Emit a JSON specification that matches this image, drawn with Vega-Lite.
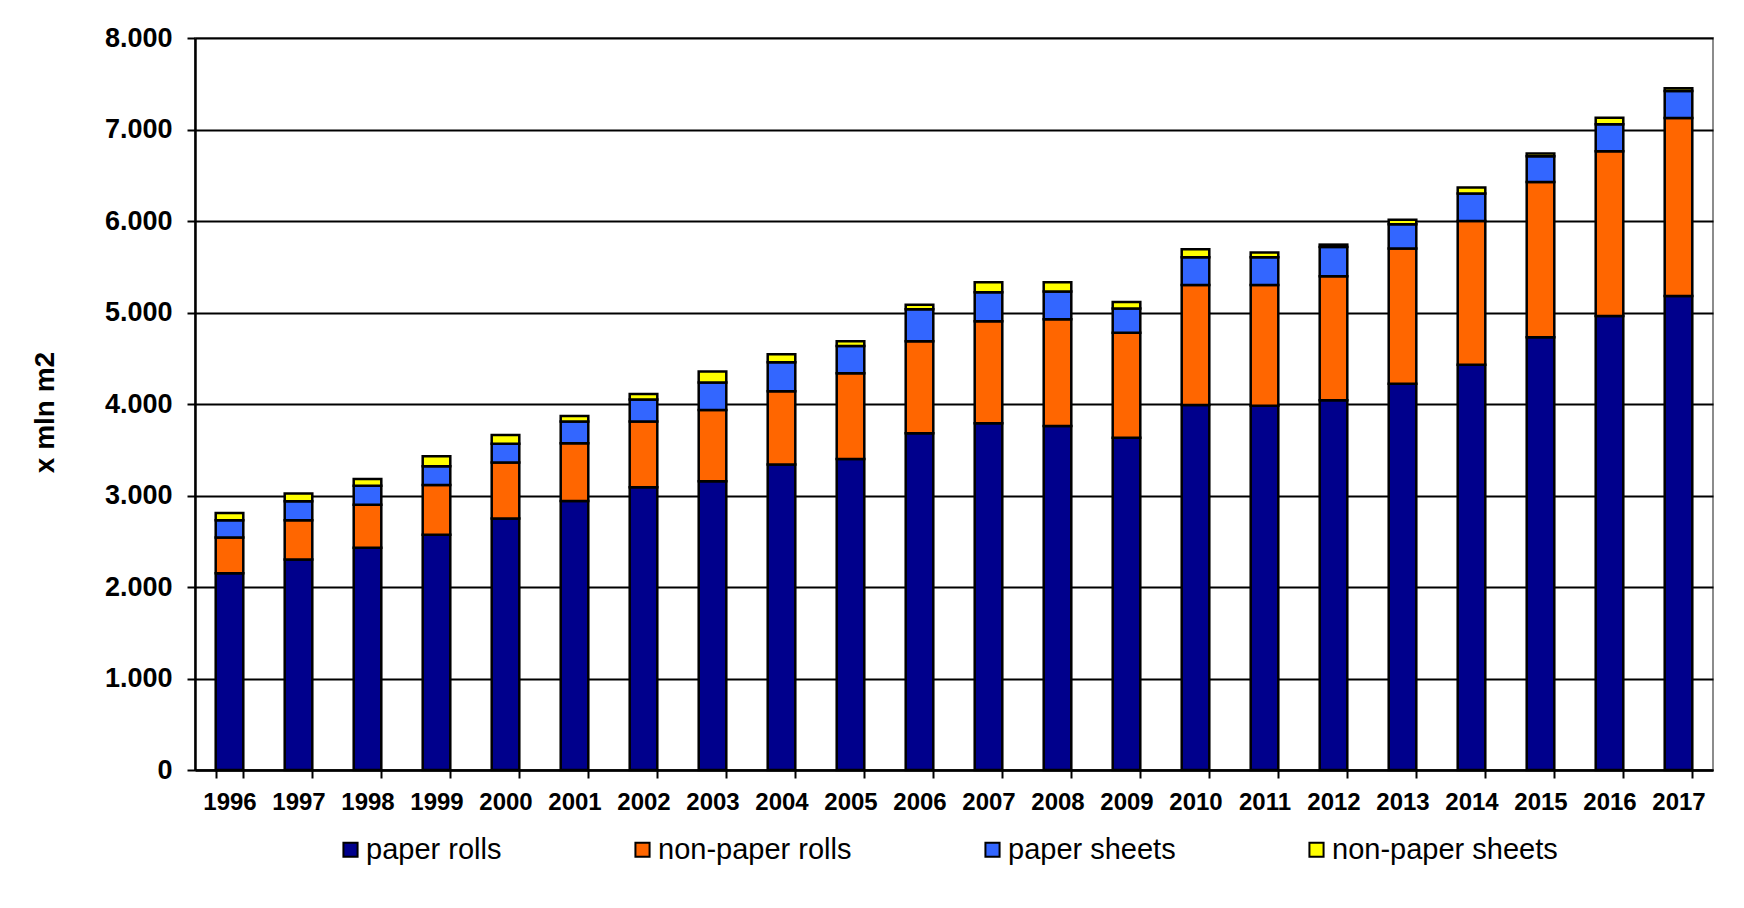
{
  "$schema": "https://vega.github.io/schema/vega-lite/v6.json",
  "width": 1518,
  "height": 732,
  "autosize": {"type": "none"},
  "padding": {"left": 195, "top": 38, "right": 31, "bottom": 138},
  "background": "white",
  "config": {
    "font": "Liberation Sans",
    "view": {"stroke": "#8c8c8c", "strokeWidth": 2}
  },
  "data": {
    "values": [
      {"year": "1996", "series": "paper rolls", "value": 2150},
      {"year": "1996", "series": "non-paper rolls", "value": 390},
      {"year": "1996", "series": "paper sheets", "value": 190},
      {"year": "1996", "series": "non-paper sheets", "value": 80},
      {"year": "1997", "series": "paper rolls", "value": 2300},
      {"year": "1997", "series": "non-paper rolls", "value": 430},
      {"year": "1997", "series": "paper sheets", "value": 207},
      {"year": "1997", "series": "non-paper sheets", "value": 85},
      {"year": "1998", "series": "paper rolls", "value": 2430},
      {"year": "1998", "series": "non-paper rolls", "value": 470},
      {"year": "1998", "series": "paper sheets", "value": 207},
      {"year": "1998", "series": "non-paper sheets", "value": 73},
      {"year": "1999", "series": "paper rolls", "value": 2570},
      {"year": "1999", "series": "non-paper rolls", "value": 545},
      {"year": "1999", "series": "paper sheets", "value": 205},
      {"year": "1999", "series": "non-paper sheets", "value": 110},
      {"year": "2000", "series": "paper rolls", "value": 2750},
      {"year": "2000", "series": "non-paper rolls", "value": 610},
      {"year": "2000", "series": "paper sheets", "value": 205},
      {"year": "2000", "series": "non-paper sheets", "value": 95},
      {"year": "2001", "series": "paper rolls", "value": 2940},
      {"year": "2001", "series": "non-paper rolls", "value": 630},
      {"year": "2001", "series": "paper sheets", "value": 240},
      {"year": "2001", "series": "non-paper sheets", "value": 60},
      {"year": "2002", "series": "paper rolls", "value": 3090},
      {"year": "2002", "series": "non-paper rolls", "value": 720},
      {"year": "2002", "series": "paper sheets", "value": 240},
      {"year": "2002", "series": "non-paper sheets", "value": 60},
      {"year": "2003", "series": "paper rolls", "value": 3155},
      {"year": "2003", "series": "non-paper rolls", "value": 780},
      {"year": "2003", "series": "paper sheets", "value": 300},
      {"year": "2003", "series": "non-paper sheets", "value": 120},
      {"year": "2004", "series": "paper rolls", "value": 3340},
      {"year": "2004", "series": "non-paper rolls", "value": 800},
      {"year": "2004", "series": "paper sheets", "value": 315},
      {"year": "2004", "series": "non-paper sheets", "value": 90},
      {"year": "2005", "series": "paper rolls", "value": 3400},
      {"year": "2005", "series": "non-paper rolls", "value": 935},
      {"year": "2005", "series": "paper sheets", "value": 300},
      {"year": "2005", "series": "non-paper sheets", "value": 50},
      {"year": "2006", "series": "paper rolls", "value": 3680},
      {"year": "2006", "series": "non-paper rolls", "value": 1005},
      {"year": "2006", "series": "paper sheets", "value": 350},
      {"year": "2006", "series": "non-paper sheets", "value": 50},
      {"year": "2007", "series": "paper rolls", "value": 3790},
      {"year": "2007", "series": "non-paper rolls", "value": 1115},
      {"year": "2007", "series": "paper sheets", "value": 315},
      {"year": "2007", "series": "non-paper sheets", "value": 110},
      {"year": "2008", "series": "paper rolls", "value": 3760},
      {"year": "2008", "series": "non-paper rolls", "value": 1165},
      {"year": "2008", "series": "paper sheets", "value": 305},
      {"year": "2008", "series": "non-paper sheets", "value": 100},
      {"year": "2009", "series": "paper rolls", "value": 3630},
      {"year": "2009", "series": "non-paper rolls", "value": 1150},
      {"year": "2009", "series": "paper sheets", "value": 265},
      {"year": "2009", "series": "non-paper sheets", "value": 70},
      {"year": "2010", "series": "paper rolls", "value": 3990},
      {"year": "2010", "series": "non-paper rolls", "value": 1310},
      {"year": "2010", "series": "paper sheets", "value": 305},
      {"year": "2010", "series": "non-paper sheets", "value": 85},
      {"year": "2011", "series": "paper rolls", "value": 3980},
      {"year": "2011", "series": "non-paper rolls", "value": 1320},
      {"year": "2011", "series": "paper sheets", "value": 305},
      {"year": "2011", "series": "non-paper sheets", "value": 50},
      {"year": "2012", "series": "paper rolls", "value": 4040},
      {"year": "2012", "series": "non-paper rolls", "value": 1357},
      {"year": "2012", "series": "paper sheets", "value": 320},
      {"year": "2012", "series": "non-paper sheets", "value": 25},
      {"year": "2013", "series": "paper rolls", "value": 4220},
      {"year": "2013", "series": "non-paper rolls", "value": 1480},
      {"year": "2013", "series": "paper sheets", "value": 265},
      {"year": "2013", "series": "non-paper sheets", "value": 50},
      {"year": "2014", "series": "paper rolls", "value": 4430},
      {"year": "2014", "series": "non-paper rolls", "value": 1570},
      {"year": "2014", "series": "paper sheets", "value": 300},
      {"year": "2014", "series": "non-paper sheets", "value": 65},
      {"year": "2015", "series": "paper rolls", "value": 4730},
      {"year": "2015", "series": "non-paper rolls", "value": 1697},
      {"year": "2015", "series": "paper sheets", "value": 281},
      {"year": "2015", "series": "non-paper sheets", "value": 30},
      {"year": "2016", "series": "paper rolls", "value": 4963},
      {"year": "2016", "series": "non-paper rolls", "value": 1800},
      {"year": "2016", "series": "paper sheets", "value": 295},
      {"year": "2016", "series": "non-paper sheets", "value": 70},
      {"year": "2017", "series": "paper rolls", "value": 5181},
      {"year": "2017", "series": "non-paper rolls", "value": 1946},
      {"year": "2017", "series": "paper sheets", "value": 293},
      {"year": "2017", "series": "non-paper sheets", "value": 30}
    ]
  },
  "transform": [
    {"calculate": "indexof(['paper rolls','non-paper rolls','paper sheets','non-paper sheets'], datum.series)", "as": "ord"}
  ],
  "mark": {"type": "bar", "stroke": "black", "strokeWidth": 2.5},
  "encoding": {
    "x": {
      "field": "year",
      "type": "ordinal",
      "scale": {"paddingInner": 0.6, "paddingOuter": 0.3},
      "axis": {
        "title": null,
        "labelAngle": 0,
        "labelFontSize": 24,
        "labelFontWeight": "bold",
        "labelColor": "black",
        "labelPadding": 12,
        "tickBand": "extent",
        "tickSize": 8,
        "tickWidth": 2,
        "tickColor": "black",
        "domainColor": "black",
        "domainWidth": 2.5,
        "grid": false
      }
    },
    "y": {
      "field": "value",
      "type": "quantitative",
      "stack": "zero",
      "scale": {"domain": [0, 8000]},
      "axis": {
        "title": "x mln m2",
        "titleFontSize": 28,
        "titleFontWeight": "bold",
        "titleColor": "black",
        "titleX": -150,
        "titleY": 374,
        "titleBaseline": "middle",
        "values": [0, 1000, 2000, 3000, 4000, 5000, 6000, 7000, 8000],
        "labelExpr": "replace(format(datum.value, ','), ',', '.')",
        "labelFontSize": 27,
        "labelFontWeight": "bold",
        "labelColor": "black",
        "labelPadding": 15,
        "tickSize": 8,
        "tickWidth": 2,
        "tickColor": "black",
        "domainColor": "black",
        "domainWidth": 2.5,
        "grid": true,
        "gridColor": "black",
        "gridWidth": 2,
        "gridOpacity": 1
      }
    },
    "color": {
      "field": "series",
      "type": "nominal",
      "scale": {
        "domain": ["paper rolls", "non-paper rolls", "paper sheets", "non-paper sheets"],
        "range": ["#00008C", "#FF6600", "#3366FF", "#FFFF00"]
      },
      "legend": {
        "orient": "none",
        "legendX": 141,
        "legendY": 797,
        "direction": "horizontal",
        "title": null,
        "symbolType": "square",
        "symbolSize": 200,
        "symbolStrokeColor": "black",
        "symbolStrokeWidth": 2,
        "symbolOpacity": 1,
        "labelFontSize": 29,
        "labelColor": "black",
        "labelOffset": 1,
        "columnPadding": 126,
        "labelLimit": 400
      }
    },
    "order": {"field": "ord", "type": "quantitative"}
  }
}
